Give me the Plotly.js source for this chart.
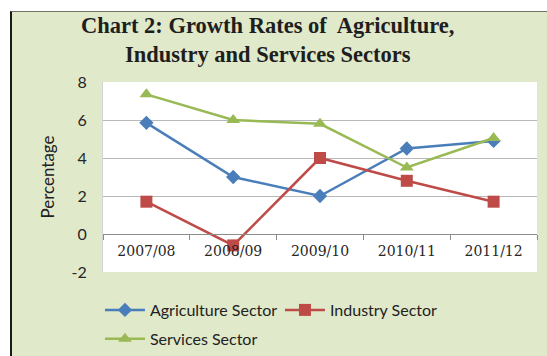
<!DOCTYPE html>
<html>
<head>
<meta charset="utf-8">
<script src="https://cdn.plot.ly/plotly-3.0.1.min.js"></script>
<style>
  html, body { margin: 0; padding: 0; background: #ffffff; width: 547px; height: 356px; overflow: hidden; }
  #wrap { position: absolute; left: 10px; top: 11px; width: 535px; height: 344px;
          border-left: 2px solid #1a1a1a; border-top: 1px solid #6e7166; background: #e0e9c9; }
  #chart { width: 535px; height: 344px; }
</style>
</head>
<body>
<div id="wrap"><div id="chart"></div></div>
<script>
const years = ["2007/08", "2008/09", "2009/10", "2010/11", "2011/12"];
const agriculture = [5.85, 3.0, 2.0, 4.5, 4.9];
const industry = [1.7, -0.6, 4.0, 2.8, 1.7];
const services = [7.35, 6.0, 5.8, 3.5, 5.05];
const yTicks = [-2, 0, 2, 4, 6, 8];

const traces = [
  { x: years, y: agriculture, name: "Agriculture Sector", type: "scatter", mode: "lines+markers",
    line: { color: "#4a7ebb", width: 2.5 }, marker: { symbol: "diamond", size: 11, color: "#4a7ebb" }, legend: "legend" },
  { x: years, y: industry, name: "Industry Sector", type: "scatter", mode: "lines+markers",
    line: { color: "#be4b48", width: 2.5 }, marker: { symbol: "square", size: 12, color: "#be4b48" }, legend: "legend" },
  { x: years, y: services, name: "Services Sector", type: "scatter", mode: "lines+markers",
    line: { color: "#98b954", width: 2.5 }, marker: { symbol: "triangle-up", size: 12, color: "#98b954" }, legend: "legend2" }
];

const legendCommon = {
  orientation: "h", xanchor: "left", yanchor: "middle", bgcolor: "rgba(0,0,0,0)",
  font: { family: "Lato, 'Liberation Sans', sans-serif", size: 16, color: "#222" },
  itemwidth: 40, entrywidth: 125, entrywidthmode: "pixels", itemclick: false
};

const layout = {
  width: 535, height: 344,
  margin: { l: 91, r: 10, t: 70, b: 84, pad: 0, autoexpand: false },
  paper_bgcolor: "#e0e9c9",
  plot_bgcolor: "#ffffff",
  title: {
    text: "Chart 2: Growth Rates of  Agriculture,<br>Industry and Services Sectors",
    font: { family: "'Liberation Serif', 'Times New Roman', serif", size: 22.5, color: "#1e1e1e", weight: "bold" },
    xref: "container", x: 0.478, xanchor: "center",
    yref: "container", y: 0.939, yanchor: "middle"
  },
  xaxis: {
    type: "category", range: [-0.5, 4.5],
    anchor: "free", position: 0.2,
    showline: true, linecolor: "#8c8c8c", linewidth: 1,
    ticks: "outside", tickson: "boundaries", ticklen: 5, tickcolor: "#8c8c8c",
    ticklabelstandoff: 4,
    showgrid: false, zeroline: false, automargin: false,
    tickfont: { family: "'DejaVu Serif', serif", size: 14, color: "#262626" },
    fixedrange: true
  },
  yaxis: {
    range: [-2, 8], tickvals: yTicks, ticktext: yTicks.map(String),
    showgrid: true, gridcolor: "#b8b8b8", gridwidth: 1,
    zeroline: false, showline: true, linecolor: "#d4d4d4", ticks: "",
    ticklabelstandoff: 12, automargin: false,
    tickfont: { family: "Lato, 'Liberation Sans', sans-serif", size: 16, color: "#262626" },
    title: { text: "Percentage", standoff: 12, font: { family: "Lato, 'Liberation Sans', sans-serif", size: 17, color: "#222" } },
    fixedrange: true
  },
  showlegend: true,
  legend: Object.assign({}, legendCommon, { x: -0.007, y: -0.2 }),
  legend2: Object.assign({}, legendCommon, { x: -0.007, y: -0.352 })
};

Plotly.newPlot("chart", traces, layout, { displayModeBar: false, staticPlot: true });
</script>
</body>
</html>
